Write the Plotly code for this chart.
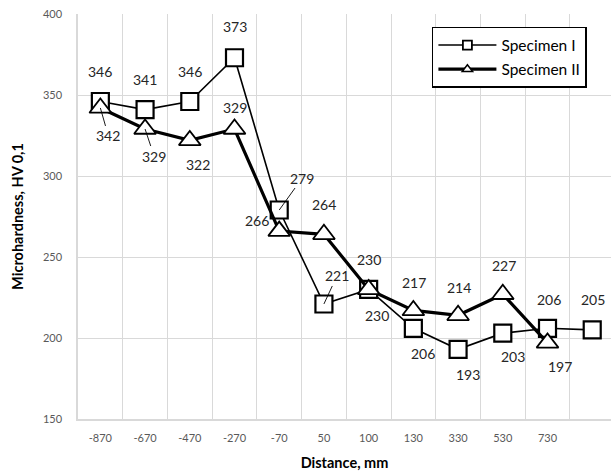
import plotly.graph_objects as go

categories = ["-870", "-670", "-470", "-270", "-70", "50", "100", "130", "330", "530", "730", ""]
spec1 = [346, 341, 346, 373, 279, 221, 230, 206, 193, 203, 206, 205]
spec2 = [342, 329, 322, 329, 266, 264, 230, 217, 214, 227, 197]

# label offsets (pixels): (dx, dy_up, leader)
lab1 = [(0, 30, False), (0, 30, False), (0, 30, False), (0, 31, False), (23, 32, True),
        (13, 28, True), (0, 30, False), (10, -25, False), (10, -25, False), (10, -23, False),
        (1, 29, False), (1, 30, False)]
lab2 = [(8, -28, True), (9, -27, True), (8, -24, False), (0, 22, False), (-22, 11, False),
        (0, 30, False), (8, -26, False), (1, 28, False), (1, 28, False), (1, 29, False),
        (12, -24, False)]

FONT = "Lato"
xs1 = list(range(len(spec1)))
xs2 = list(range(len(spec2)))

fig = go.Figure()
fig.add_trace(go.Scatter(x=xs1, y=spec1, mode="lines+markers", showlegend=False,
                         line=dict(color="black", width=1.6),
                         marker=dict(symbol="square", size=17, color="white",
                                     line=dict(color="black", width=2.2))))
fig.add_trace(go.Scatter(x=xs2, y=spec2, mode="lines+markers", showlegend=False,
                         line=dict(color="black", width=3.2),
                         marker=dict(symbol="triangle-up", size=19, color="white",
                                     line=dict(color="black", width=1.8))))
# legend entries
fig.add_trace(go.Scatter(x=[None], y=[None], mode="lines+markers", name="Specimen I",
                         legendgroup="a",
                         line=dict(color="black", width=1.6),
                         marker=dict(symbol="square", size=9, color="white",
                                     line=dict(color="black", width=1.8))))
fig.add_trace(go.Scatter(x=[None], y=[None], mode="lines+markers", name="Specimen II",
                         legendgroup="b",
                         line=dict(color="black", width=3.2),
                         marker=dict(symbol="triangle-up", size=9, color="white",
                                     line=dict(color="black", width=1.5))))

annotations = []
for vals, labs in ((spec1, lab1), (spec2, lab2)):
    for i, (v, (dx, dy, leader)) in enumerate(zip(vals, labs)):
        if leader:
            annotations.append(dict(x=i, y=v, xref="x", yref="y", text=str(v),
                                    showarrow=True, ax=dx, ay=-dy, arrowhead=0,
                                    arrowwidth=0.9, arrowcolor="black", standoff=0,
                                    font=dict(family=FONT, size=14, color="#262626")))
        else:
            annotations.append(dict(x=i, y=v, xref="x", yref="y", text=str(v),
                                    showarrow=False, xshift=dx, yshift=dy,
                                    font=dict(family=FONT, size=14, color="#262626")))

fig.update_layout(
    width=611, height=474,
    margin=dict(l=78, r=0, t=14, b=55),
    paper_bgcolor="white", plot_bgcolor="white",
    font=dict(family=FONT, color="#595959", size=11),
    annotations=annotations,
    legend=dict(x=0.664, y=0.968, xanchor="left", yanchor="top",
                bordercolor="black", borderwidth=1.5, bgcolor="white",
                font=dict(family=FONT, size=15.5, color="black"),
                itemwidth=58, tracegroupgap=1),
    xaxis=dict(range=[-0.5, 11.42], tickmode="array", tickvals=xs1, ticktext=categories,
               showgrid=False, zeroline=False, ticks="",
               showline=True, linecolor="#d9d9d9", linewidth=1.5,
               ticklabelstandoff=8,
               tickfont=dict(family=FONT, size=11, color="#595959"),
               minor=dict(tick0=-0.5, dtick=1, showgrid=True, gridcolor="#d9d9d9",
                          gridwidth=1.3, ticks=""),
               title=dict(text="<b>Distance, mm</b>", standoff=15,
                          font=dict(family=FONT, size=14.5, color="black"))),
    yaxis=dict(range=[150, 400], dtick=50, tick0=150, showgrid=True, gridcolor="#d9d9d9",
               gridwidth=1.3, zeroline=False, ticks="",
               showline=True, linecolor="#d9d9d9", linewidth=1.5,
               ticklabelstandoff=12,
               tickfont=dict(family=FONT, size=11, color="#595959"),
               title=dict(text="<b>Microhardness, HV 0,1</b>", standoff=16,
                          font=dict(family=FONT, size=14.5, color="black"))),
)

fig.write_html("out.html")
